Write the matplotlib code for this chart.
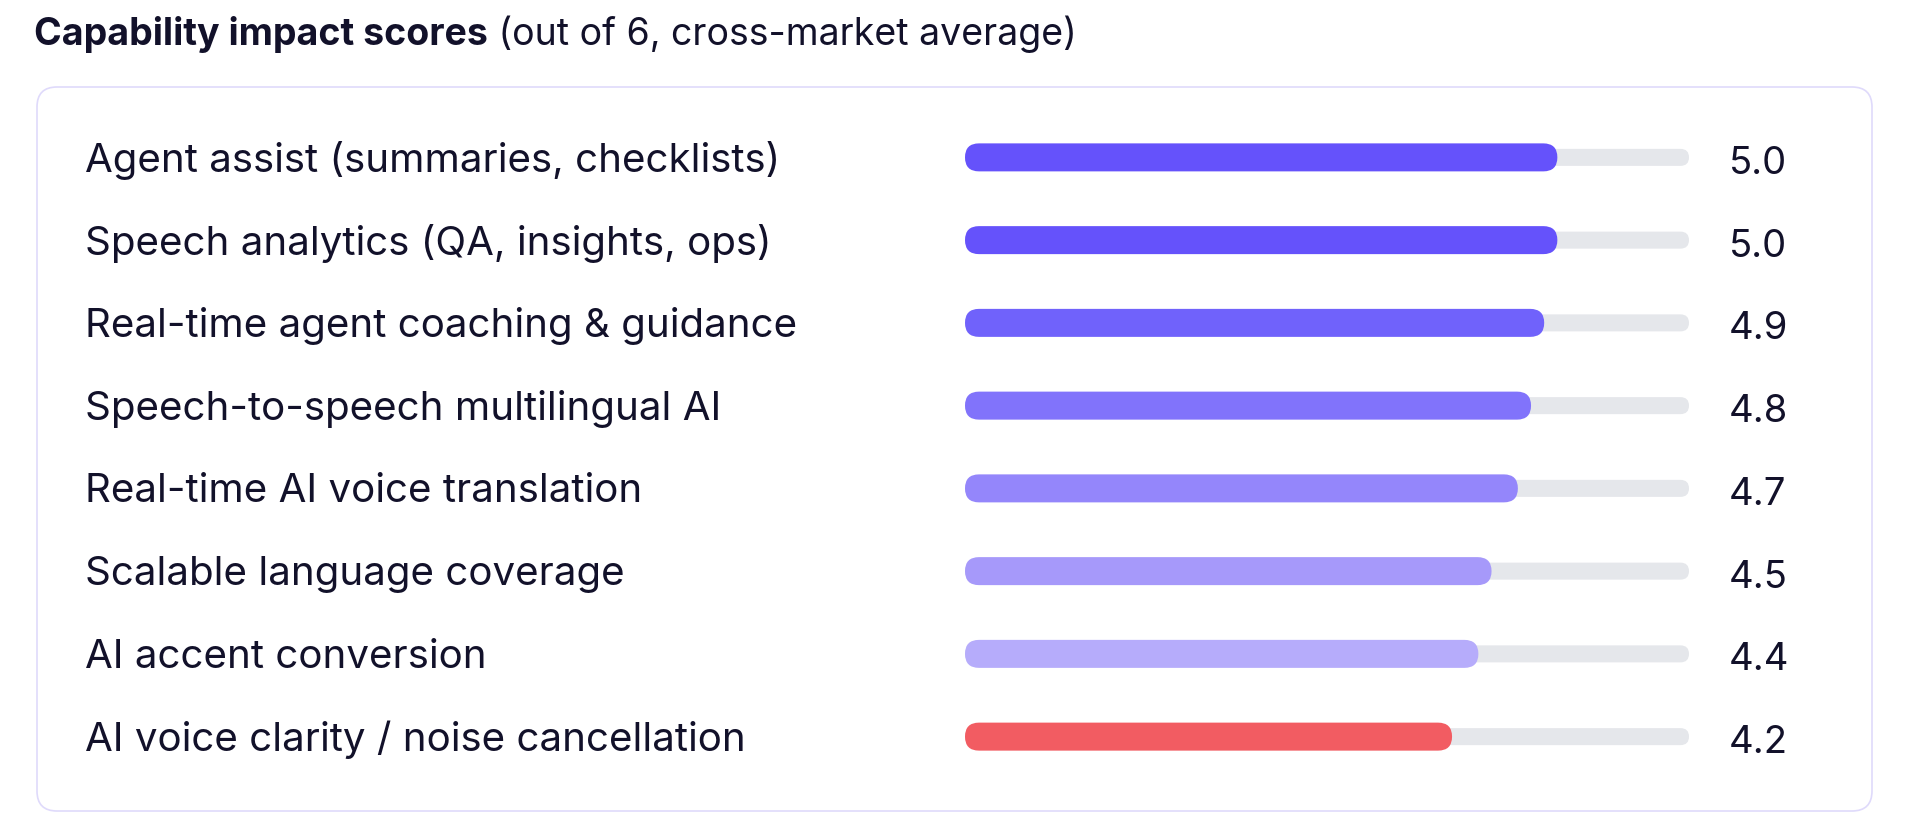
import matplotlib.pyplot as plt
import matplotlib.transforms as mtransforms
from matplotlib.patches import FancyBboxPatch

plt.rcParams['font.family'] = ['Inter', 'DejaVu Sans']

# data
capabilities = [
    "Agent assist (summaries, checklists)",
    "Speech analytics (QA, insights, ops)",
    "Real-time agent coaching & guidance",
    "Speech-to-speech multilingual AI",
    "Real-time AI voice translation",
    "Scalable language coverage",
    "AI accent conversion",
    "AI voice clarity / noise cancellation",
]
scores = [5.0, 5.0, 4.9, 4.8, 4.7, 4.5, 4.4, 4.2]
bar_colors = ['#6552fb', '#6552fb', '#7062fb', '#8173fb',
              '#9486fb', '#a699fa', '#b6acfb', '#f25c62']
scale_min, scale_max = 0.5, 6.0

W, H = 1915, 834
fig = plt.figure(figsize=(W / 100, H / 100), dpi=100)
text_col = '#12112a'

# card outline
card = FancyBboxPatch((37 / W, 1 - 811 / H), (1872 - 37) / W, (811 - 87) / H,
                      boxstyle="round,pad=0,rounding_size=%f" % (20 / W),
                      mutation_aspect=W / H, transform=fig.transFigure,
                      facecolor='white', edgecolor='#dfdafb', linewidth=1.2,
                      zorder=-1)
fig.patches.append(card)

# bar area
x0, x1 = 965, 1689
top, bottom = 116, 778
ax = fig.add_axes([x0 / W, 1 - bottom / H, (x1 - x0) / W, (bottom - top) / H])
ax.set_xlim(scale_min, scale_max)
ax.set_ylim(len(scores) - 0.5, -0.5)
ax.axis('off')

# title
t1 = fig.text(34 / W, 1 - 45 / H, "Capability impact scores", fontsize=27,
              fontweight='bold', color=text_col, va='baseline')
ax.annotate(" (out of 6, cross-market average)", xy=(1, 0), xycoords=t1,
            va='bottom', ha='left', fontsize=27, color=text_col,
            annotation_clip=False)

sx = (x1 - x0) / (scale_max - scale_min)          # px per x unit
sy = (bottom - top) / len(scores)                  # px per row
aspect = sx / sy

track_h = 17 / sy
bar_h = 28 / sy

for i, (v, c) in enumerate(zip(scores, bar_colors)):
    track = FancyBboxPatch((scale_min, i - track_h / 2), scale_max - scale_min, track_h,
                           boxstyle="round,pad=0,rounding_size=%f" % (8.5 / sx),
                           mutation_aspect=aspect, facecolor='#e5e7eb',
                           edgecolor='none')
    ax.add_patch(track)
    bar = FancyBboxPatch((scale_min, i - bar_h / 2), v - scale_min, bar_h,
                         boxstyle="round,pad=0,rounding_size=%f" % (14 / sx),
                         mutation_aspect=aspect, facecolor=c, edgecolor='none')
    ax.add_patch(bar)

trans = mtransforms.blended_transform_factory(fig.transFigure, ax.transData)
for i, (name, v) in enumerate(zip(capabilities, scores)):
    ax.text(85 / W, i + 0.04, name, transform=trans, fontsize=29,
            color=text_col, va='center', ha='left', clip_on=False)
    ax.text(1729 / W, i + 0.08, "%.1f" % v, transform=trans, fontsize=27.5,
            color=text_col, va='center', ha='left', clip_on=False)

fig.savefig('out.png', dpi=100)
